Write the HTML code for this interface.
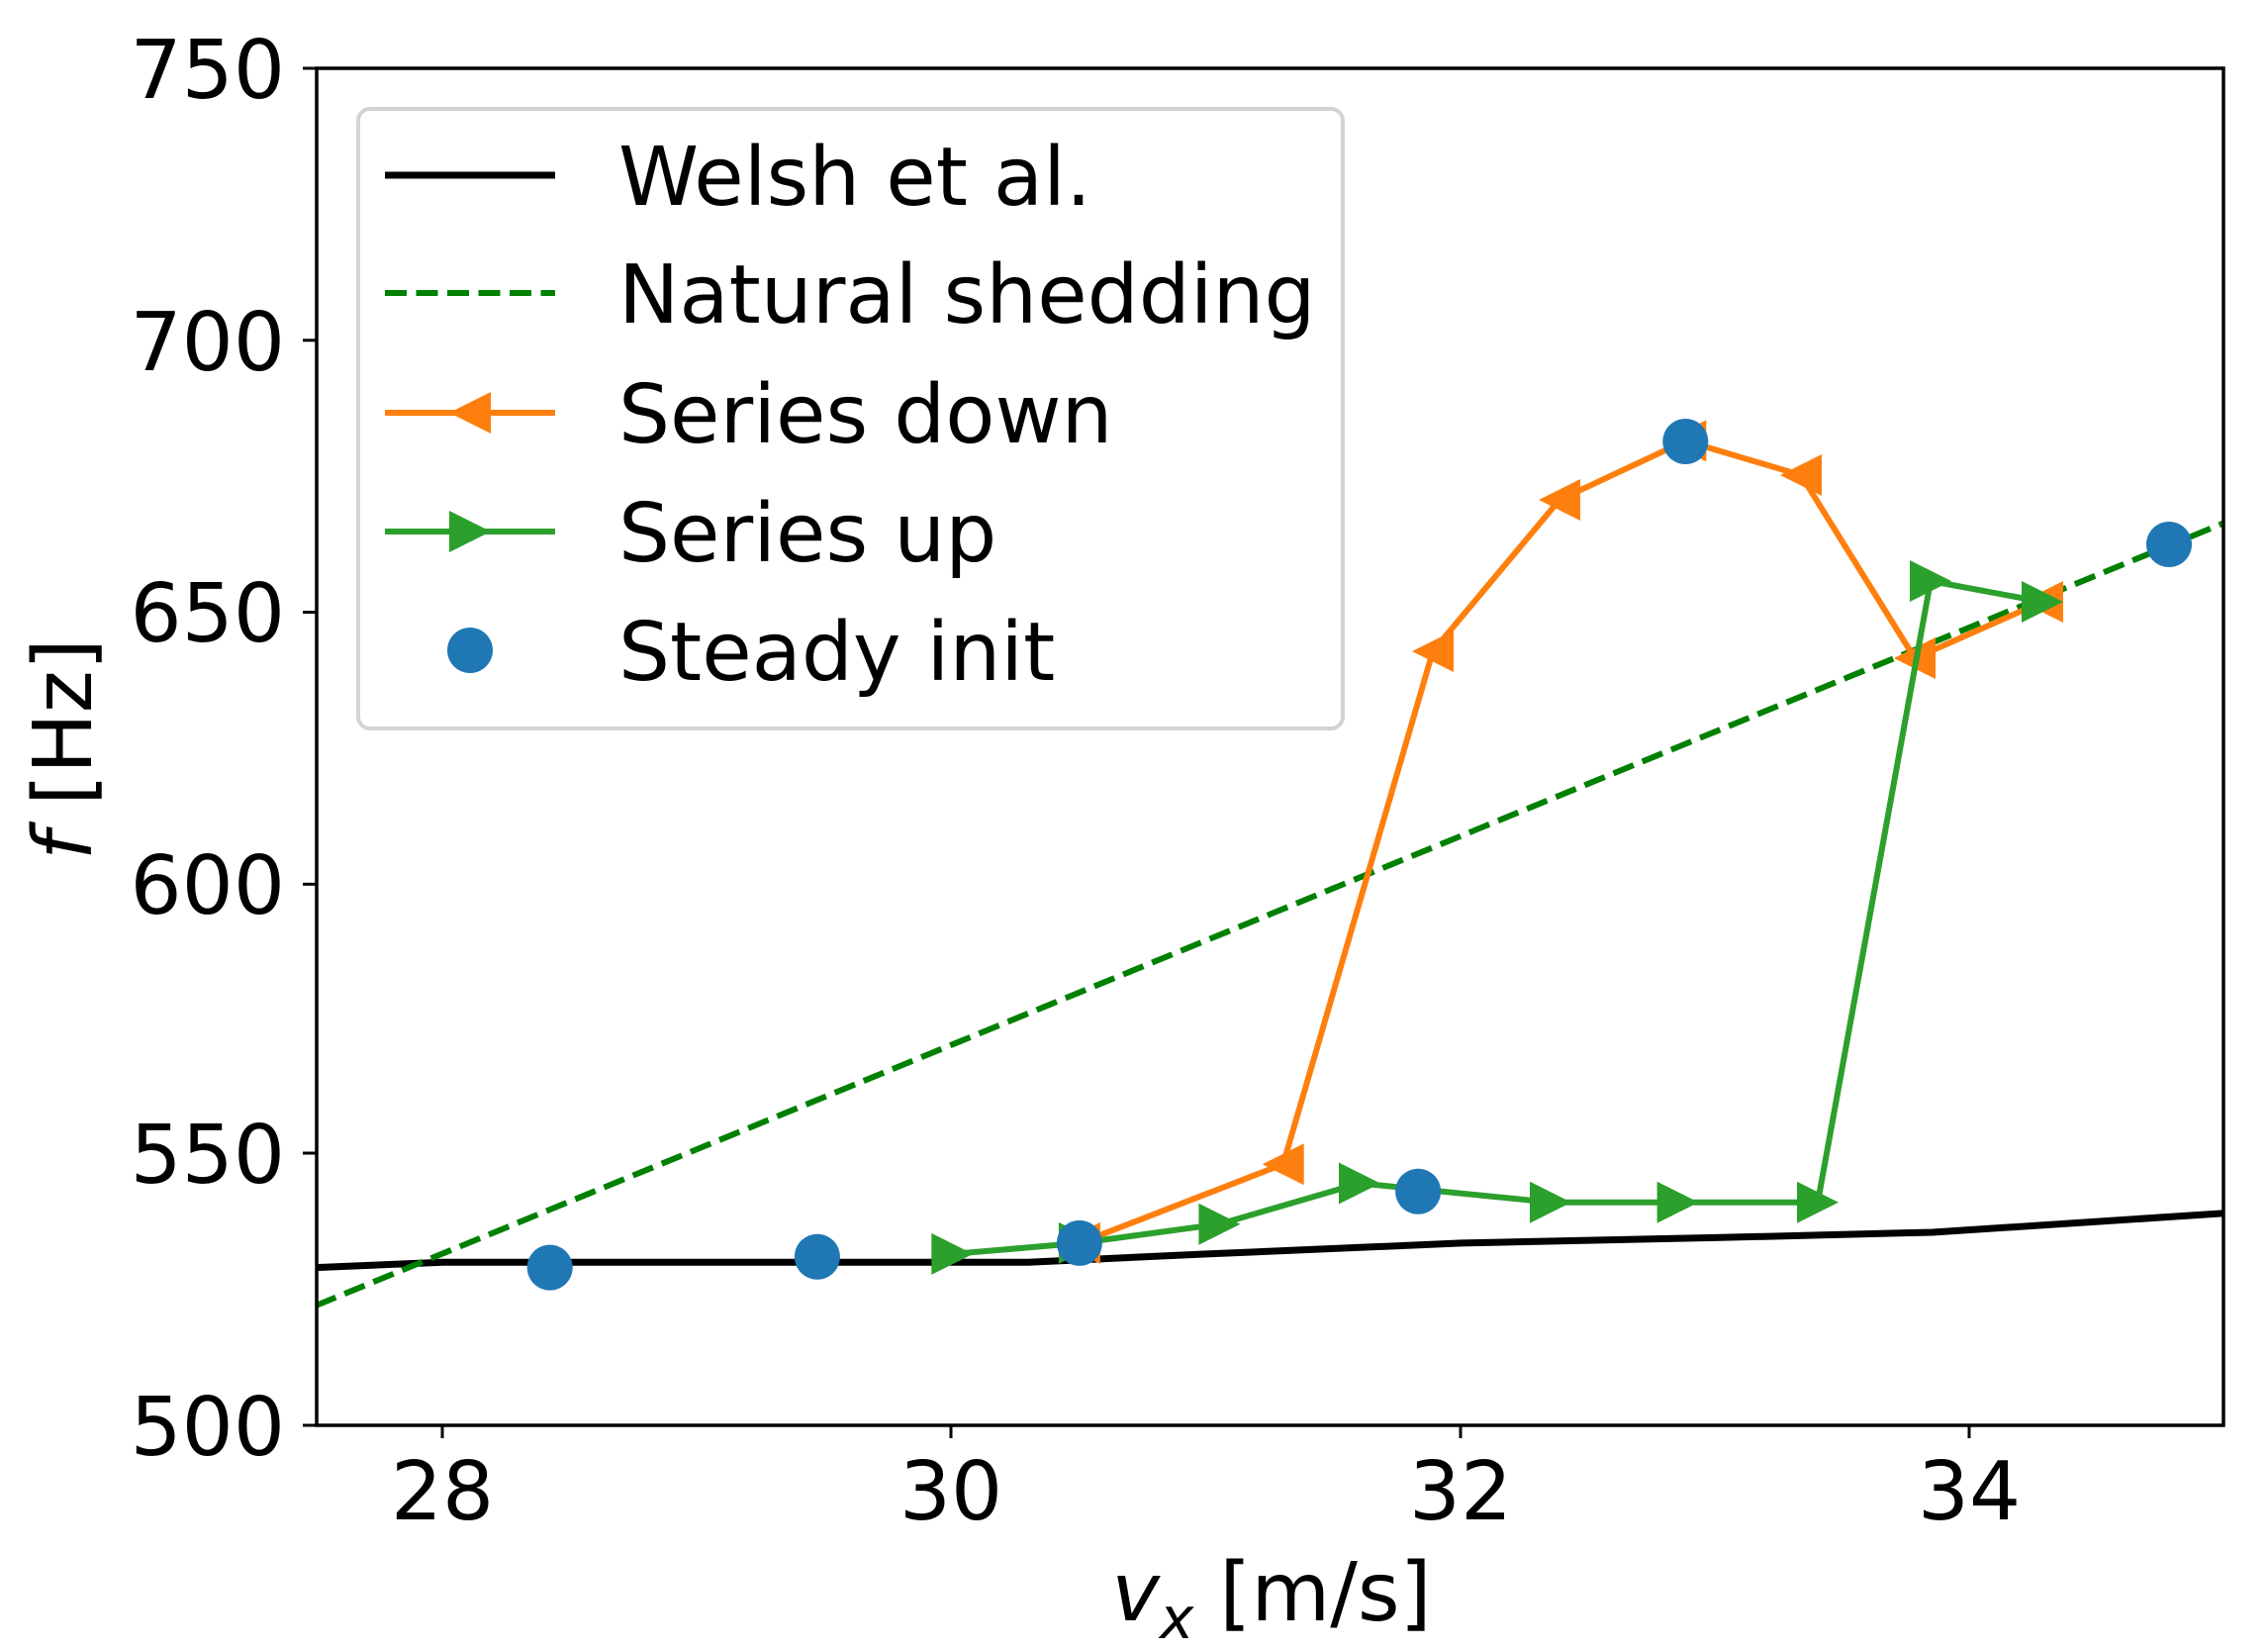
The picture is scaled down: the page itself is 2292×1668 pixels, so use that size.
<!DOCTYPE html>
<html><head><meta charset="utf-8"><style>html,body{margin:0;padding:0;background:#fff}svg{display:block}</style></head>
<body>
<svg width="2292" height="1668" viewBox="0 0 2292 1668" xmlns="http://www.w3.org/2000/svg" font-family="DejaVu Sans, Liberation Sans, sans-serif">
<defs>
<clipPath id="c"><rect x="319" y="69" width="1929" height="1371"/></clipPath>
<path id="tl" d="M-21,0 L21,-21 L21,21 Z"/>
<path id="tr" d="M21,0 L-21,-21 L-21,21 Z"/>
</defs>
<g clip-path="url(#c)" fill="none" stroke-linejoin="round">
<polyline stroke="#000" stroke-width="7" points="319,1280.6 447.6,1275.2 1039.4,1275.2 1219.6,1266.9 1476.9,1255.9 1734,1250.4 1953,1245 2249,1225.7"/>
<line x1="319" y1="1319.1" x2="2249" y2="527.8" stroke="#008000" stroke-width="6" stroke-dasharray="22,9.5"/>
<polyline stroke="#ff7f0e" stroke-width="6" points="2064,608 1935,665 1820,480 1703.3,445.4 1576,505 1448,658 1296.7,1176.2 1090.9,1255.9"/>
<g fill="#ff7f0e">
<use href="#tl" x="2064" y="608"/><use href="#tl" x="1935" y="665"/><use href="#tl" x="1820" y="480"/><use href="#tl" x="1703.3" y="445.4"/><use href="#tl" x="1576" y="505"/><use href="#tl" x="1448" y="658"/><use href="#tl" x="1296.7" y="1176.2"/><use href="#tl" x="1090.9" y="1255.9"/>
</g>
<polyline stroke="#2ca02c" stroke-width="6" points="962.3,1266.9 1090.9,1255.9 1232.4,1236.7 1374,1195.5 1567,1214.7 1695.6,1214.7 1837,1214.7 1951,587 2064,608"/>
<g fill="#2ca02c">
<use href="#tr" x="962.3" y="1266.9"/><use href="#tr" x="1090.9" y="1255.9"/><use href="#tr" x="1232.4" y="1236.7"/><use href="#tr" x="1374" y="1195.5"/><use href="#tr" x="1567" y="1214.7"/><use href="#tr" x="1695.6" y="1214.7"/><use href="#tr" x="1837" y="1214.7"/><use href="#tr" x="1951" y="587"/><use href="#tr" x="2064" y="608"/>
</g>
<g fill="#1f77b4">
<circle cx="555.7" cy="1280.6" r="23"/><circle cx="825.9" cy="1269.7" r="23"/><circle cx="1090.9" cy="1255.9" r="23"/><circle cx="1433.1" cy="1203.7" r="23"/><circle cx="1703.3" cy="446" r="23"/><circle cx="2192" cy="550" r="23"/>
</g>
</g>
<rect x="320" y="69" width="1927" height="1371" fill="none" stroke="#000" stroke-width="3.5"/>
<g stroke="#000" stroke-width="3">
<line x1="306" y1="69" x2="319" y2="69"/><line x1="306" y1="343.8" x2="319" y2="343.8"/><line x1="306" y1="618.5" x2="319" y2="618.5"/><line x1="306" y1="893.3" x2="319" y2="893.3"/><line x1="306" y1="1165" x2="319" y2="1165"/><line x1="306" y1="1440" x2="319" y2="1440"/>
<line x1="447" y1="1440" x2="447" y2="1453"/><line x1="961" y1="1440" x2="961" y2="1453"/><line x1="1476" y1="1440" x2="1476" y2="1453"/><line x1="1990" y1="1440" x2="1990" y2="1453"/>
</g>
<g font-size="82" fill="#000" text-anchor="end">
<text x="288" y="99">750</text><text x="288" y="374">700</text><text x="288" y="648">650</text><text x="288" y="923">600</text><text x="288" y="1195">550</text><text x="288" y="1470">500</text>
</g>
<g font-size="82" fill="#000" text-anchor="middle">
<text x="447" y="1535">28</text><text x="961" y="1535">30</text><text x="1476" y="1535">32</text><text x="1990" y="1535">34</text>
</g>
<text x="1285" y="1637" font-size="82" text-anchor="middle"><tspan font-style="italic">v</tspan><tspan font-style="italic" font-size="58" dy="18">x</tspan><tspan dy="-18"> [m/s]</tspan></text>
<text transform="translate(92,757) rotate(-90)" font-size="82" text-anchor="middle"><tspan font-style="italic">f</tspan> [Hz]</text>
<rect x="362" y="110" width="995" height="626" rx="12" fill="#fff" fill-opacity="0.8" stroke="#d3d3d3" stroke-width="4"/>
<line x1="389" y1="177" x2="561" y2="177" stroke="#000" stroke-width="7"/>
<line x1="389" y1="296" x2="561" y2="296" stroke="#008000" stroke-width="6" stroke-dasharray="22,9.5"/>
<line x1="389" y1="417" x2="561" y2="417" stroke="#ff7f0e" stroke-width="6"/>
<use href="#tl" x="475" y="417" fill="#ff7f0e"/>
<line x1="389" y1="537" x2="561" y2="537" stroke="#2ca02c" stroke-width="6"/>
<use href="#tr" x="475" y="537" fill="#2ca02c"/>
<circle cx="475" cy="657" r="23" fill="#1f77b4"/>
<g font-size="82" fill="#000">
<text x="625" y="207">Welsh et al.</text>
<text x="625" y="326">Natural shedding</text>
<text x="625" y="447">Series down</text>
<text x="625" y="567">Series up</text>
<text x="625" y="687">Steady init</text>
</g>
</svg>
</body></html>
